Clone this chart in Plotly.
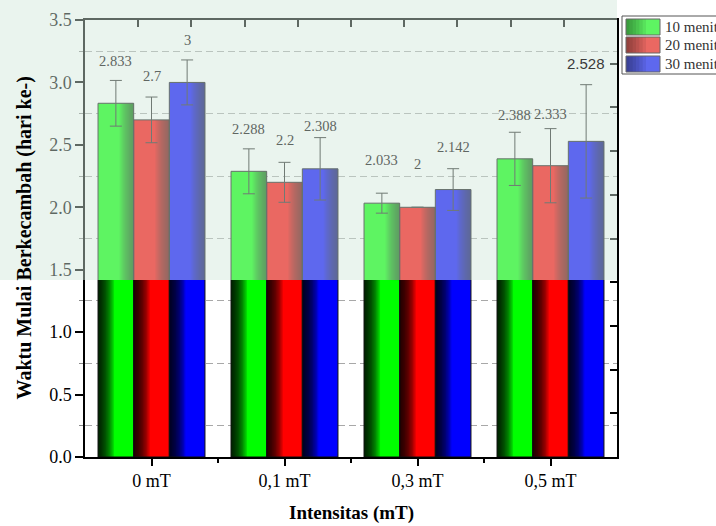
import plotly.graph_objects as go

# ---------------- data ----------------
categories = ["0 mT", "0,1 mT", "0,3 mT", "0,5 mT"]
series_names = ["10 menit", "20 menit", "30 menit"]
v10 = [2.833, 2.288, 2.033, 2.388]
v20 = [2.7, 2.2, 2.0, 2.333]
v30 = [3.0, 2.308, 2.142, 2.528]
e10 = [0.183, 0.18, 0.08, 0.213]
e20 = [0.183, 0.16, 0.0, 0.297]
e30 = [0.18, 0.25, 0.167, 0.454]
y_ticks = [0, 0.5, 1.0, 1.5, 2.0, 2.5, 3.0, 3.5]

values = [v10, v20, v30]
errors = [e10, e20, e30]

# ---------------- style ----------------
colors = ["#00ff00", "#ff0000", "#0000ff"]
legend_colors = ["#5ef462", "#ea6862", "#5e68ee"]
W = 0.268
offsets = [-1.5 * W, -0.5 * W, 0.5 * W]
SPLIT = 1.417          # level of the washed (watermark) band
label_shift = [[19, 21, 20], [20, 22, 12], [33, 43, 22], [17, 15, 21]]
L, R, T, B = 85, 617, 20, 457
FIG_W, FIG_H = 716, 526


def px_x(p):
    return (p - L) / (R - L)


def px_y(p):
    return (B - p) / (B - T)


xs = list(range(len(categories)))
fig = go.Figure()

NS = 12
for i in range(3):
    vals = values[i]
    fig.add_trace(go.Bar(x=xs, y=vals, width=W, offset=offsets[i],
                         marker=dict(color=colors[i], line=dict(width=0)),
                         showlegend=False, hoverinfo="skip"))
    # lower shading: dark at left edge
    a = 1 - 0.15 ** (1 / NS)
    for k in range(NS):
        w = 0.45 * W * (NS - k) / NS
        fig.add_trace(go.Bar(x=xs, y=[min(v, SPLIT) for v in vals], base=0,
                             width=w, offset=offsets[i],
                             marker=dict(color=f"rgba(0,0,0,{a:.4f})", line=dict(width=0)),
                             showlegend=False, hoverinfo="skip"))
    # upper shading: dark at right edge
    a2 = 1 - 0.4 ** (1 / NS)
    for k in range(NS):
        w = 0.4 * W * (NS - k) / NS
        fig.add_trace(go.Bar(x=xs, y=[v - SPLIT for v in vals], base=SPLIT,
                             width=w, offset=offsets[i] + W - w,
                             marker=dict(color=f"rgba(0,0,0,{a2:.4f})", line=dict(width=0)),
                             showlegend=False, hoverinfo="skip"))

for i in range(3):
    errs = [e if e > 0 else None for e in errors[i]]
    fig.add_trace(go.Bar(x=xs, y=values[i], width=W, offset=offsets[i], name=series_names[i],
                         marker=dict(color="rgba(0,0,0,0)", line=dict(color="#111", width=1)),
                         error_y=dict(type="data", array=errs, color="#222", thickness=1, width=6),
                         showlegend=False))

fig.add_trace(go.Scatter(x=[None], y=[None], xaxis="x2", yaxis="y2",
                         showlegend=False, hoverinfo="skip"))

# value labels
annotations = []
for j in range(len(categories)):
    for i in range(3):
        v = values[i][j]
        top = v + errors[i][j]
        last = (j == len(categories) - 1 and i == 2)
        annotations.append(dict(
            x=xs[j] + offsets[i] + W / 2, y=top, xref="x", yref="y",
            text=f"{v:g}", showarrow=False, yanchor="middle", xanchor="center",
            yshift=label_shift[j][i],
            font=dict(family="Liberation Sans" if last else "Liberation Serif",
                      size=15 if last else 14.5,
                      color="#3a3a3a" if last else "#5f6662")))

# axis titles
annotations.append(dict(x=px_x(24), y=0.5, xref="paper", yref="paper",
                        text="<b>Waktu Mulai Berkecambah (hari ke-)</b>", textangle=-90,
                        showarrow=False, xanchor="center", yanchor="middle",
                        font=dict(family="Liberation Serif", size=20, color="#000")))
annotations.append(dict(x=0.5, y=px_y(513), xref="paper", yref="paper",
                        text="<b>Intensitas (mT)</b>", showarrow=False,
                        xanchor="center", yanchor="middle",
                        font=dict(family="Liberation Serif", size=19, color="#000")))

shapes = []
# watermark wash over upper part
shapes.append(dict(type="rect", xref="paper", yref="paper",
                   x0=px_x(0), x1=1.0, y0=SPLIT / 3.5, y1=px_y(0),
                   fillcolor="rgba(209,231,218,0.45)", line=dict(width=0), layer="above"))

# legend (manual)
shapes.append(dict(type="rect", xref="paper", yref="paper",
                   x0=px_x(622), x1=px_x(760), y0=px_y(74), y1=px_y(16),
                   fillcolor="white", line=dict(color="#555", width=1)))
rows = [(19, 35), (37, 53), (56, 72)]
for i, (ya, yb) in enumerate(rows):
    shapes.append(dict(type="rect", xref="paper", yref="paper",
                       x0=px_x(626), x1=px_x(660), y0=px_y(yb), y1=px_y(ya),
                       fillcolor=legend_colors[i], line=dict(width=0)))
    for k in range(6):
        x1 = 626 + 20 * (6 - k) / 6
        shapes.append(dict(type="rect", xref="paper", yref="paper",
                           x0=px_x(626), x1=px_x(x1), y0=px_y(yb), y1=px_y(ya),
                           fillcolor="rgba(0,0,0,0.07)", line=dict(width=0)))
    shapes.append(dict(type="rect", xref="paper", yref="paper",
                       x0=px_x(626), x1=px_x(660), y0=px_y(yb), y1=px_y(ya),
                       fillcolor="rgba(0,0,0,0)", line=dict(color="#666", width=1)))
    annotations.append(dict(x=px_x(663), y=px_y((ya + yb) / 2), xref="paper", yref="paper",
                            text=series_names[i], showarrow=False, xanchor="left",
                            yanchor="middle",
                            font=dict(family="Liberation Serif", size=15, color="#333")))

fig.update_layout(
    width=FIG_W, height=FIG_H,
    margin=dict(l=L, r=FIG_W - R, t=T, b=FIG_H - B, autoexpand=False),
    paper_bgcolor="white", plot_bgcolor="white",
    barmode="overlay", showlegend=False,
    font=dict(family="Liberation Serif", size=18, color="#000"),
    xaxis=dict(range=[-0.5, 3.5], tickmode="array", tickvals=xs, ticktext=categories,
               ticks="outside", ticklen=7, tickwidth=1.5, tickcolor="#000",
               showline=True, linecolor="#000", linewidth=1.5, showgrid=False,
               zeroline=False, tickfont=dict(size=18, family="Liberation Serif"),
               minor=dict(tickvals=[0.5, 1.5, 2.5], ticks="outside", ticklen=4,
                          tickwidth=1.5, tickcolor="#000", showgrid=False)),
    yaxis=dict(range=[0, 3.5], tickmode="array", tickvals=y_ticks,
               ticktext=[f"{t:.1f}" for t in y_ticks],
               ticks="outside", ticklen=8, tickwidth=1.5, tickcolor="#000",
               showline=True, linecolor="#000", linewidth=1.5, showgrid=False,
               zeroline=False, tickfont=dict(size=18, family="Liberation Serif"),
               minor=dict(tickvals=[0.25 + 0.5 * k for k in range(7)], ticks="outside",
                          ticklen=4, tickwidth=1, tickcolor="#888", showgrid=True,
                          gridcolor="#a8a8a8", gridwidth=1, griddash="7px,4px")),
    xaxis2=dict(range=[-0.5, 3.5], overlaying="x", side="top", anchor="y2",
                tickmode="array", tickvals=[-0.5 + 0.4 * k for k in range(11)],
                ticks="inside", ticklen=7, tickwidth=1.5, tickcolor="#000",
                showticklabels=False, showline=True, linecolor="#000", linewidth=1.5,
                showgrid=False, zeroline=False),
    yaxis2=dict(range=[0, 3.5], overlaying="y", side="right", anchor="x2",
                tickmode="array", tickvals=[0.35 * k for k in range(11)],
                ticks="inside", ticklen=7, tickwidth=1.5, tickcolor="#000",
                showticklabels=False, showline=True, linecolor="#000", linewidth=1.5,
                showgrid=False, zeroline=False),
    shapes=shapes, annotations=annotations,
)

fig.write_html("out.html")
